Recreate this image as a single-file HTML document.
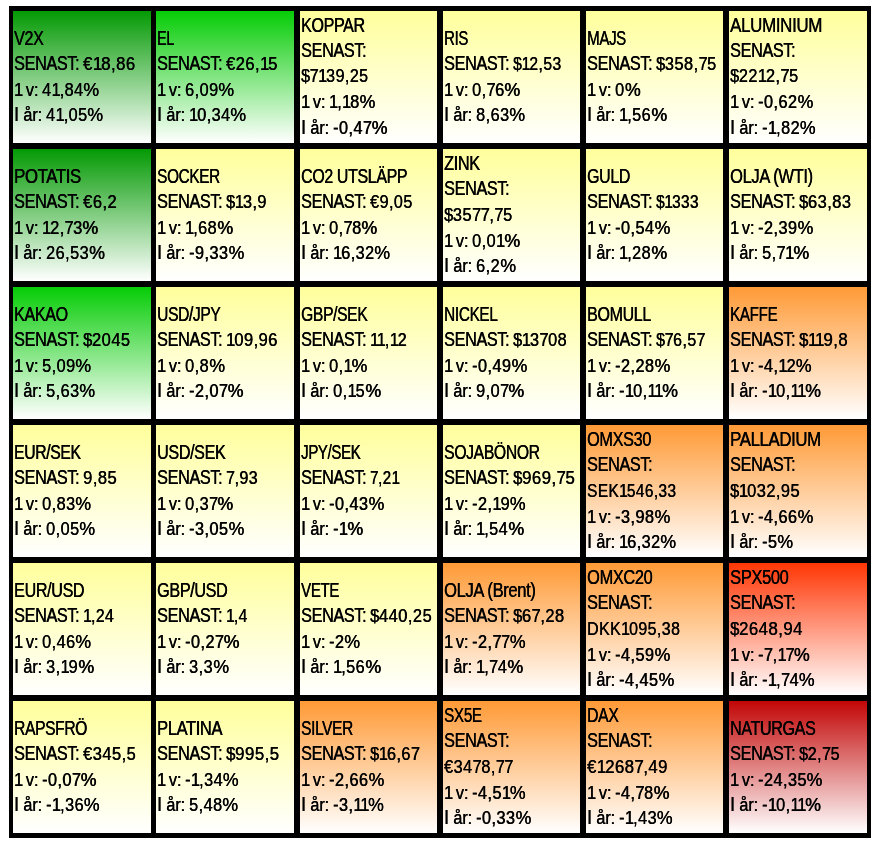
<!DOCTYPE html>
<html lang="sv"><head><meta charset="utf-8"><title>Heatmap</title>
<style>
html,body{margin:0;padding:0;background:#fff}
#g{position:relative;width:881px;height:851px;overflow:hidden;background:#fff;font-family:"Liberation Sans",sans-serif;font-size:19.55px;line-height:25px;color:#000}
#f{position:absolute;left:9px;top:6px;width:862px;height:832px;background:#000}
.c{position:absolute;overflow:hidden}
.dg{background:linear-gradient(to bottom,#049a04,#fff)}
.bg{background:linear-gradient(to bottom,#06cc06,#fff)}
.y{background:linear-gradient(to bottom,#ffff9c,#fff)}
.o{background:linear-gradient(to bottom,#ff9a36,#fff)}
.r{background:linear-gradient(to bottom,#ff3604,#fff)}
.dr{background:linear-gradient(to bottom,#c20606,#fff)}
.c div{position:absolute;left:1.2px;white-space:nowrap;transform-origin:0 0;transform:scaleX(0.833);height:25px;-webkit-text-stroke:0.15px #000;text-shadow:0.38px 0 0 #000;letter-spacing:-0.45px}
.c .n{letter-spacing:0.5px;font-size:18.15px}
.c .k{letter-spacing:-0.1px;transform:scaleX(0.8973);font-size:18.15px}
.c span{font-size:19.55px;line-height:0}
.c .S{transform:scaleX(0.833)}
b{font-weight:normal;letter-spacing:-0.50px}
em{font-style:normal;letter-spacing:-1.10px}
u{text-decoration:none;letter-spacing:-0.40px}
i{font-style:normal;display:inline-block;transform:scaleX(1.09);transform-origin:0 50%}
.c .k1{word-spacing:-1.8px}
</style></head><body>
<div id="g"><div id="f"></div>
<div class="c dg" style="left:13px;top:11px;width:138px;height:132px">
<div style="top:14.60px;transform:scaleX(0.8245)">V2X</div>
<div class="S" style="top:39.60px">SENAST:</div>
<div class="n" style="top:40.60px;left:70.40px;transform:scaleX(0.9232)">€<em>1</em>8,86</div>
<div class="k k1" style="top:66.60px">1 v:</div>
<div class="n" style="top:66.60px;left:29.40px;transform:scaleX(0.8960)">4<em>1</em>,84<i>%</i></div>
<div class="k" style="top:91.60px"><span>I</span> år:</div>
<div class="n" style="top:91.60px;left:32.50px;transform:scaleX(0.8960)">4<em>1</em>,05<i>%</i></div>
</div>
<div class="c bg" style="left:156px;top:11px;width:138px;height:132px">
<div style="top:14.60px;transform:scaleX(0.7329)">EL</div>
<div class="S" style="top:39.60px">SENAST:</div>
<div class="n" style="top:40.60px;left:70.40px;transform:scaleX(0.9089)">€26,<em>1</em>5</div>
<div class="k k1" style="top:66.60px">1 v:</div>
<div class="n" style="top:66.60px;left:29.40px;transform:scaleX(0.8960)">6,09<i>%</i></div>
<div class="k" style="top:91.60px"><span>I</span> år:</div>
<div class="n" style="top:91.60px;left:32.50px;transform:scaleX(0.8960)"><em>1</em>0,34<i>%</i></div>
</div>
<div class="c y" style="left:300px;top:11px;width:137px;height:132px">
<div style="top:1.60px;transform:scaleX(0.8229)">KOPPAR</div>
<div class="S" style="top:26.60px">SENAST:</div>
<div class="n" style="top:52.60px;left:1.20px;transform:scaleX(0.8842)"><u>$</u><b>7</b><em>1</em>39,25</div>
<div class="k k1" style="top:78.60px">1 v:</div>
<div class="n" style="top:78.60px;left:29.40px;transform:scaleX(0.8960)"><em>1</em>,<em>1</em>8<i>%</i></div>
<div class="k" style="top:104.60px"><span>I</span> år:</div>
<div class="n" style="top:104.60px;left:32.50px;transform:scaleX(0.8960)">-0,4<b>7</b><i>%</i></div>
</div>
<div class="c y" style="left:443px;top:11px;width:137px;height:132px">
<div style="top:14.60px;transform:scaleX(0.7639)">RIS</div>
<div class="S" style="top:39.60px">SENAST:</div>
<div class="n" style="top:40.60px;left:70.40px;transform:scaleX(0.8652)"><u>$</u><em>1</em>2,53</div>
<div class="k k1" style="top:66.60px">1 v:</div>
<div class="n" style="top:66.60px;left:29.40px;transform:scaleX(0.8960)">0,<b>7</b>6<i>%</i></div>
<div class="k" style="top:91.60px"><span>I</span> år:</div>
<div class="n" style="top:91.60px;left:32.50px;transform:scaleX(0.8960)">8,63<i>%</i></div>
</div>
<div class="c y" style="left:586px;top:11px;width:137px;height:132px">
<div style="top:14.60px;transform:scaleX(0.7706)">MAJS</div>
<div class="S" style="top:39.60px">SENAST:</div>
<div class="n" style="top:40.60px;left:70.40px;transform:scaleX(0.9013)"><u>$</u>358,<b>7</b>5</div>
<div class="k k1" style="top:66.60px">1 v:</div>
<div class="n" style="top:66.60px;left:29.40px;transform:scaleX(0.8960)">0<i>%</i></div>
<div class="k" style="top:91.60px"><span>I</span> år:</div>
<div class="n" style="top:91.60px;left:32.50px;transform:scaleX(0.8960)"><em>1</em>,56<i>%</i></div>
</div>
<div class="c y" style="left:729px;top:11px;width:138px;height:132px">
<div style="top:1.60px;transform:scaleX(0.8705)">ALUMINIUM</div>
<div class="S" style="top:26.60px">SENAST:</div>
<div class="n" style="top:52.60px;left:1.20px;transform:scaleX(0.8975)"><u>$</u>22<em>1</em>2,<b>7</b>5</div>
<div class="k k1" style="top:78.60px">1 v:</div>
<div class="n" style="top:78.60px;left:29.40px;transform:scaleX(0.8960)">-0,62<i>%</i></div>
<div class="k" style="top:104.60px"><span>I</span> år:</div>
<div class="n" style="top:104.60px;left:32.50px;transform:scaleX(0.8960)">-<em>1</em>,82<i>%</i></div>
</div>
<div class="c dg" style="left:13px;top:149px;width:138px;height:132px">
<div style="top:14.60px;transform:scaleX(0.8599)">POTATIS</div>
<div class="S" style="top:39.60px">SENAST:</div>
<div class="n" style="top:40.60px;left:70.40px;transform:scaleX(0.9114)">€6,2</div>
<div class="k k1" style="top:66.60px">1 v:</div>
<div class="n" style="top:66.60px;left:29.40px;transform:scaleX(0.8960)"><em>1</em>2,<b>7</b>3<i>%</i></div>
<div class="k" style="top:91.60px"><span>I</span> år:</div>
<div class="n" style="top:91.60px;left:32.50px;transform:scaleX(0.8960)">26,53<i>%</i></div>
</div>
<div class="c y" style="left:156px;top:149px;width:138px;height:132px">
<div style="top:14.60px;transform:scaleX(0.7859)">SOCKER</div>
<div class="S" style="top:39.60px">SENAST:</div>
<div class="n" style="top:40.60px;left:70.40px;transform:scaleX(0.8979)"><u>$</u><em>1</em>3,9</div>
<div class="k k1" style="top:66.60px">1 v:</div>
<div class="n" style="top:66.60px;left:29.40px;transform:scaleX(0.8960)"><em>1</em>,68<i>%</i></div>
<div class="k" style="top:91.60px"><span>I</span> år:</div>
<div class="n" style="top:91.60px;left:32.50px;transform:scaleX(0.8960)">-9,33<i>%</i></div>
</div>
<div class="c y" style="left:300px;top:149px;width:137px;height:132px">
<div style="top:14.60px;transform:scaleX(0.8175)">CO2 UTSLÄPP</div>
<div class="S" style="top:39.60px">SENAST:</div>
<div class="n" style="top:40.60px;left:70.40px;transform:scaleX(0.8899)">€9,05</div>
<div class="k k1" style="top:66.60px">1 v:</div>
<div class="n" style="top:66.60px;left:29.40px;transform:scaleX(0.8960)">0,<b>7</b>8<i>%</i></div>
<div class="k" style="top:91.60px"><span>I</span> år:</div>
<div class="n" style="top:91.60px;left:32.50px;transform:scaleX(0.8960)"><em>1</em>6,32<i>%</i></div>
</div>
<div class="c y" style="left:443px;top:149px;width:137px;height:132px">
<div style="top:1.60px;transform:scaleX(0.8336)">ZINK</div>
<div class="S" style="top:26.60px">SENAST:</div>
<div class="n" style="top:53.60px;left:1.20px;transform:scaleX(0.9037)"><u>$</u>35<b>7</b><b>7</b>,<b>7</b>5</div>
<div class="k k1" style="top:79.60px">1 v:</div>
<div class="n" style="top:79.60px;left:29.40px;transform:scaleX(0.8960)">0,0<em>1</em><i>%</i></div>
<div class="k" style="top:104.60px"><span>I</span> år:</div>
<div class="n" style="top:104.60px;left:32.50px;transform:scaleX(0.8960)">6,2<i>%</i></div>
</div>
<div class="c y" style="left:586px;top:149px;width:137px;height:132px">
<div style="top:14.60px;transform:scaleX(0.8150)">GULD</div>
<div class="S" style="top:39.60px">SENAST:</div>
<div class="n" style="top:40.60px;left:70.40px;transform:scaleX(0.8490)"><u>$</u><em>1</em>333</div>
<div class="k k1" style="top:66.60px">1 v:</div>
<div class="n" style="top:66.60px;left:29.40px;transform:scaleX(0.8960)">-0,54<i>%</i></div>
<div class="k" style="top:91.60px"><span>I</span> år:</div>
<div class="n" style="top:91.60px;left:32.50px;transform:scaleX(0.8960)"><em>1</em>,28<i>%</i></div>
</div>
<div class="c y" style="left:729px;top:149px;width:138px;height:132px">
<div style="top:14.60px;transform:scaleX(0.8464)">OLJA (WTI)</div>
<div class="S" style="top:39.60px">SENAST:</div>
<div class="n" style="top:40.60px;left:70.40px;transform:scaleX(0.9090)"><u>$</u>63,83</div>
<div class="k k1" style="top:66.60px">1 v:</div>
<div class="n" style="top:66.60px;left:29.40px;transform:scaleX(0.8960)">-2,39<i>%</i></div>
<div class="k" style="top:91.60px"><span>I</span> år:</div>
<div class="n" style="top:91.60px;left:32.50px;transform:scaleX(0.8960)">5,<b>7</b><em>1</em><i>%</i></div>
</div>
<div class="c bg" style="left:13px;top:287px;width:138px;height:132px">
<div style="top:14.60px;transform:scaleX(0.8240)">KAKAO</div>
<div class="S" style="top:39.60px">SENAST:</div>
<div class="n" style="top:40.60px;left:70.40px;transform:scaleX(0.9109)"><u>$</u>2045</div>
<div class="k k1" style="top:66.60px">1 v:</div>
<div class="n" style="top:66.60px;left:29.40px;transform:scaleX(0.8960)">5,09<i>%</i></div>
<div class="k" style="top:91.60px"><span>I</span> år:</div>
<div class="n" style="top:91.60px;left:32.50px;transform:scaleX(0.8960)">5,63<i>%</i></div>
</div>
<div class="c y" style="left:156px;top:287px;width:138px;height:132px">
<div style="top:14.60px;transform:scaleX(0.7984)">USD/JPY</div>
<div class="S" style="top:39.60px">SENAST:</div>
<div class="n" style="top:40.60px;left:70.40px;transform:scaleX(0.9089)"><em>1</em>09,96</div>
<div class="k k1" style="top:66.60px">1 v:</div>
<div class="n" style="top:66.60px;left:29.40px;transform:scaleX(0.8960)">0,8<i>%</i></div>
<div class="k" style="top:91.60px"><span>I</span> år:</div>
<div class="n" style="top:91.60px;left:32.50px;transform:scaleX(0.8960)">-2,0<b>7</b><i>%</i></div>
</div>
<div class="c y" style="left:300px;top:287px;width:137px;height:132px">
<div style="top:14.60px;transform:scaleX(0.8016)">GBP/SEK</div>
<div class="S" style="top:39.60px">SENAST:</div>
<div class="n" style="top:40.60px;left:70.40px;transform:scaleX(0.8852)"><em>1</em><em>1</em>,<em>1</em>2</div>
<div class="k k1" style="top:66.60px">1 v:</div>
<div class="n" style="top:66.60px;left:29.40px;transform:scaleX(0.8960)">0,<em>1</em><i>%</i></div>
<div class="k" style="top:91.60px"><span>I</span> år:</div>
<div class="n" style="top:91.60px;left:32.50px;transform:scaleX(0.8960)">0,<em>1</em>5<i>%</i></div>
</div>
<div class="c y" style="left:443px;top:287px;width:137px;height:132px">
<div style="top:14.60px;transform:scaleX(0.7865)">NICKEL</div>
<div class="S" style="top:39.60px">SENAST:</div>
<div class="n" style="top:40.60px;left:70.40px;transform:scaleX(0.8979)"><u>$</u><em>1</em>3<b>7</b>08</div>
<div class="k k1" style="top:66.60px">1 v:</div>
<div class="n" style="top:66.60px;left:29.40px;transform:scaleX(0.8960)">-0,49<i>%</i></div>
<div class="k" style="top:91.60px"><span>I</span> år:</div>
<div class="n" style="top:91.60px;left:32.50px;transform:scaleX(0.8960)">9,0<b>7</b><i>%</i></div>
</div>
<div class="c y" style="left:586px;top:287px;width:137px;height:132px">
<div style="top:14.60px;transform:scaleX(0.8203)">BOMULL</div>
<div class="S" style="top:39.60px">SENAST:</div>
<div class="n" style="top:40.60px;left:70.40px;transform:scaleX(0.8802)"><u>$</u><b>7</b>6,5<b>7</b></div>
<div class="k k1" style="top:66.60px">1 v:</div>
<div class="n" style="top:66.60px;left:29.40px;transform:scaleX(0.8960)">-2,28<i>%</i></div>
<div class="k" style="top:91.60px"><span>I</span> år:</div>
<div class="n" style="top:91.60px;left:32.50px;transform:scaleX(0.8960)">-<em>1</em>0,<em>1</em><em>1</em><i>%</i></div>
</div>
<div class="c o" style="left:729px;top:287px;width:138px;height:132px">
<div style="top:14.60px;transform:scaleX(0.7768)">KAFFE</div>
<div class="S" style="top:39.60px">SENAST:</div>
<div class="n" style="top:40.60px;left:70.40px;transform:scaleX(0.9218)"><u>$</u><em>1</em><em>1</em>9,8</div>
<div class="k k1" style="top:66.60px">1 v:</div>
<div class="n" style="top:66.60px;left:29.40px;transform:scaleX(0.8960)">-4,<em>1</em>2<i>%</i></div>
<div class="k" style="top:91.60px"><span>I</span> år:</div>
<div class="n" style="top:91.60px;left:32.50px;transform:scaleX(0.8960)">-<em>1</em>0,<em>1</em><em>1</em><i>%</i></div>
</div>
<div class="c y" style="left:13px;top:425px;width:138px;height:132px">
<div style="top:14.60px;transform:scaleX(0.8048)">EUR/SEK</div>
<div class="S" style="top:39.60px">SENAST:</div>
<div class="n" style="top:40.60px;left:70.40px;transform:scaleX(0.9114)">9,85</div>
<div class="k k1" style="top:66.60px">1 v:</div>
<div class="n" style="top:66.60px;left:29.40px;transform:scaleX(0.8960)">0,83<i>%</i></div>
<div class="k" style="top:91.60px"><span>I</span> år:</div>
<div class="n" style="top:91.60px;left:32.50px;transform:scaleX(0.8960)">0,05<i>%</i></div>
</div>
<div class="c y" style="left:156px;top:425px;width:138px;height:132px">
<div style="top:14.60px;transform:scaleX(0.8258)">USD/SEK</div>
<div class="S" style="top:39.60px">SENAST:</div>
<div class="n" style="top:40.60px;left:70.40px;transform:scaleX(0.8786)"><b>7</b>,93</div>
<div class="k k1" style="top:66.60px">1 v:</div>
<div class="n" style="top:66.60px;left:29.40px;transform:scaleX(0.8960)">0,3<b>7</b><i>%</i></div>
<div class="k" style="top:91.60px"><span>I</span> år:</div>
<div class="n" style="top:91.60px;left:32.50px;transform:scaleX(0.8960)">-3,05<i>%</i></div>
</div>
<div class="c y" style="left:300px;top:425px;width:137px;height:132px">
<div style="top:14.60px;transform:scaleX(0.7680)">JPY/SEK</div>
<div class="S" style="top:39.60px">SENAST:</div>
<div class="n" style="top:40.60px;left:70.40px;transform:scaleX(0.8319)"><b>7</b>,2<em>1</em></div>
<div class="k k1" style="top:66.60px">1 v:</div>
<div class="n" style="top:66.60px;left:29.40px;transform:scaleX(0.8960)">-0,43<i>%</i></div>
<div class="k" style="top:91.60px"><span>I</span> år:</div>
<div class="n" style="top:91.60px;left:32.50px;transform:scaleX(0.8960)">-<em>1</em><i>%</i></div>
</div>
<div class="c y" style="left:443px;top:425px;width:137px;height:132px">
<div style="top:14.60px;transform:scaleX(0.8055)">SOJABÖNOR</div>
<div class="S" style="top:39.60px">SENAST:</div>
<div class="n" style="top:40.60px;left:70.40px;transform:scaleX(0.9245)"><u>$</u>969,<b>7</b>5</div>
<div class="k k1" style="top:66.60px">1 v:</div>
<div class="n" style="top:66.60px;left:29.40px;transform:scaleX(0.8960)">-2,<em>1</em>9<i>%</i></div>
<div class="k" style="top:91.60px"><span>I</span> år:</div>
<div class="n" style="top:91.60px;left:32.50px;transform:scaleX(0.8960)"><em>1</em>,54<i>%</i></div>
</div>
<div class="c o" style="left:586px;top:425px;width:137px;height:132px">
<div style="top:1.60px;transform:scaleX(0.8338)">OMXS30</div>
<div class="S" style="top:26.60px">SENAST:</div>
<div class="n" style="top:53.60px;left:1.20px;transform:scaleX(0.8479)">SEK<em>1</em>546,33</div>
<div class="k k1" style="top:79.60px">1 v:</div>
<div class="n" style="top:79.60px;left:29.40px;transform:scaleX(0.8960)">-3,98<i>%</i></div>
<div class="k" style="top:104.60px"><span>I</span> år:</div>
<div class="n" style="top:104.60px;left:32.50px;transform:scaleX(0.8960)"><em>1</em>6,32<i>%</i></div>
</div>
<div class="c o" style="left:729px;top:425px;width:138px;height:132px">
<div style="top:1.60px;transform:scaleX(0.8610)">PALLADIUM</div>
<div class="S" style="top:26.60px">SENAST:</div>
<div class="n" style="top:53.60px;left:1.20px;transform:scaleX(0.9059)"><u>$</u><em>1</em>032,95</div>
<div class="k k1" style="top:79.60px">1 v:</div>
<div class="n" style="top:79.60px;left:29.40px;transform:scaleX(0.8960)">-4,66<i>%</i></div>
<div class="k" style="top:104.60px"><span>I</span> år:</div>
<div class="n" style="top:104.60px;left:32.50px;transform:scaleX(0.8960)">-5<i>%</i></div>
</div>
<div class="c y" style="left:13px;top:563px;width:138px;height:132px">
<div style="top:14.60px;transform:scaleX(0.8267)">EUR/USD</div>
<div class="S" style="top:39.60px">SENAST:</div>
<div class="n" style="top:40.60px;left:70.40px;transform:scaleX(0.8689)"><em>1</em>,24</div>
<div class="k k1" style="top:66.60px">1 v:</div>
<div class="n" style="top:66.60px;left:29.40px;transform:scaleX(0.8960)">0,46<i>%</i></div>
<div class="k" style="top:91.60px"><span>I</span> år:</div>
<div class="n" style="top:91.60px;left:32.50px;transform:scaleX(0.8960)">3,<em>1</em>9<i>%</i></div>
</div>
<div class="c y" style="left:156px;top:563px;width:138px;height:132px">
<div style="top:14.60px;transform:scaleX(0.8287)">GBP/USD</div>
<div class="S" style="top:39.60px">SENAST:</div>
<div class="n" style="top:40.60px;left:70.40px;transform:scaleX(0.8625)"><em>1</em>,4</div>
<div class="k k1" style="top:66.60px">1 v:</div>
<div class="n" style="top:66.60px;left:29.40px;transform:scaleX(0.8960)">-0,2<b>7</b><i>%</i></div>
<div class="k" style="top:91.60px"><span>I</span> år:</div>
<div class="n" style="top:91.60px;left:32.50px;transform:scaleX(0.8960)">3,3<i>%</i></div>
</div>
<div class="c y" style="left:300px;top:563px;width:137px;height:132px">
<div style="top:14.60px;transform:scaleX(0.7696)">VETE</div>
<div class="S" style="top:39.60px">SENAST:</div>
<div class="n" style="top:40.60px;left:70.40px;transform:scaleX(0.9096)"><u>$</u>440,25</div>
<div class="k k1" style="top:66.60px">1 v:</div>
<div class="n" style="top:66.60px;left:29.40px;transform:scaleX(0.8960)">-2<i>%</i></div>
<div class="k" style="top:91.60px"><span>I</span> år:</div>
<div class="n" style="top:91.60px;left:32.50px;transform:scaleX(0.8960)"><em>1</em>,56<i>%</i></div>
</div>
<div class="c o" style="left:443px;top:563px;width:137px;height:132px">
<div style="top:14.60px;transform:scaleX(0.8491)">OLJA (Brent)</div>
<div class="S" style="top:39.60px">SENAST:</div>
<div class="n" style="top:40.60px;left:70.40px;transform:scaleX(0.9093)"><u>$</u>6<b>7</b>,28</div>
<div class="k k1" style="top:66.60px">1 v:</div>
<div class="n" style="top:66.60px;left:29.40px;transform:scaleX(0.8960)">-2,<b>7</b><b>7</b><i>%</i></div>
<div class="k" style="top:91.60px"><span>I</span> år:</div>
<div class="n" style="top:91.60px;left:32.50px;transform:scaleX(0.8960)"><em>1</em>,<b>7</b>4<i>%</i></div>
</div>
<div class="c o" style="left:586px;top:563px;width:137px;height:132px">
<div style="top:1.60px;transform:scaleX(0.8410)">OMXC20</div>
<div class="S" style="top:26.60px">SENAST:</div>
<div class="n" style="top:53.60px;left:1.20px;transform:scaleX(0.8767)">DKK<em>1</em>095,38</div>
<div class="k k1" style="top:79.60px">1 v:</div>
<div class="n" style="top:79.60px;left:29.40px;transform:scaleX(0.8960)">-4,59<i>%</i></div>
<div class="k" style="top:104.60px"><span>I</span> år:</div>
<div class="n" style="top:104.60px;left:32.50px;transform:scaleX(0.8960)">-4,45<i>%</i></div>
</div>
<div class="c r" style="left:729px;top:563px;width:138px;height:132px">
<div style="top:1.60px;transform:scaleX(0.8458)">SPX500</div>
<div class="S" style="top:26.60px">SENAST:</div>
<div class="n" style="top:53.60px;left:1.20px;transform:scaleX(0.9230)"><u>$</u>2648,94</div>
<div class="k k1" style="top:79.60px">1 v:</div>
<div class="n" style="top:79.60px;left:29.40px;transform:scaleX(0.8960)">-<b>7</b>,<em>1</em><b>7</b><i>%</i></div>
<div class="k" style="top:104.60px"><span>I</span> år:</div>
<div class="n" style="top:104.60px;left:32.50px;transform:scaleX(0.8960)">-<em>1</em>,<b>7</b>4<i>%</i></div>
</div>
<div class="c y" style="left:13px;top:701px;width:138px;height:132px">
<div style="top:14.60px;transform:scaleX(0.7982)">RAPSFRÖ</div>
<div class="S" style="top:39.60px">SENAST:</div>
<div class="n" style="top:40.60px;left:70.40px;transform:scaleX(0.9085)">€345,5</div>
<div class="k k1" style="top:66.60px">1 v:</div>
<div class="n" style="top:66.60px;left:29.40px;transform:scaleX(0.8960)">-0,0<b>7</b><i>%</i></div>
<div class="k" style="top:91.60px"><span>I</span> år:</div>
<div class="n" style="top:91.60px;left:32.50px;transform:scaleX(0.8960)">-<em>1</em>,36<i>%</i></div>
</div>
<div class="c y" style="left:156px;top:701px;width:138px;height:132px">
<div style="top:14.60px;transform:scaleX(0.8462)">PLATINA</div>
<div class="S" style="top:39.60px">SENAST:</div>
<div class="n" style="top:40.60px;left:70.40px;transform:scaleX(0.9272)"><u>$</u>995,5</div>
<div class="k k1" style="top:66.60px">1 v:</div>
<div class="n" style="top:66.60px;left:29.40px;transform:scaleX(0.8960)">-<em>1</em>,34<i>%</i></div>
<div class="k" style="top:91.60px"><span>I</span> år:</div>
<div class="n" style="top:91.60px;left:32.50px;transform:scaleX(0.8960)">5,48<i>%</i></div>
</div>
<div class="c o" style="left:300px;top:701px;width:137px;height:132px">
<div style="top:14.60px;transform:scaleX(0.7930)">SILVER</div>
<div class="S" style="top:39.60px">SENAST:</div>
<div class="n" style="top:40.60px;left:70.40px;transform:scaleX(0.8981)"><u>$</u><em>1</em>6,6<b>7</b></div>
<div class="k k1" style="top:66.60px">1 v:</div>
<div class="n" style="top:66.60px;left:29.40px;transform:scaleX(0.8960)">-2,66<i>%</i></div>
<div class="k" style="top:91.60px"><span>I</span> år:</div>
<div class="n" style="top:91.60px;left:32.50px;transform:scaleX(0.8960)">-3,<em>1</em><em>1</em><i>%</i></div>
</div>
<div class="c o" style="left:443px;top:701px;width:137px;height:132px">
<div style="top:1.60px;transform:scaleX(0.7803)">SX5E</div>
<div class="S" style="top:26.60px">SENAST:</div>
<div class="n" style="top:53.60px;left:1.20px;transform:scaleX(0.8978)">€34<b>7</b>8,<b>7</b><b>7</b></div>
<div class="k k1" style="top:79.60px">1 v:</div>
<div class="n" style="top:79.60px;left:29.40px;transform:scaleX(0.8960)">-4,5<em>1</em><i>%</i></div>
<div class="k" style="top:104.60px"><span>I</span> år:</div>
<div class="n" style="top:104.60px;left:32.50px;transform:scaleX(0.8960)">-0,33<i>%</i></div>
</div>
<div class="c o" style="left:586px;top:701px;width:137px;height:132px">
<div style="top:1.60px;transform:scaleX(0.8076)">DAX</div>
<div class="S" style="top:26.60px">SENAST:</div>
<div class="n" style="top:53.60px;left:1.20px;transform:scaleX(0.9209)">€<em>1</em>268<b>7</b>,49</div>
<div class="k k1" style="top:79.60px">1 v:</div>
<div class="n" style="top:79.60px;left:29.40px;transform:scaleX(0.8960)">-4,<b>7</b>8<i>%</i></div>
<div class="k" style="top:104.60px"><span>I</span> år:</div>
<div class="n" style="top:104.60px;left:32.50px;transform:scaleX(0.8960)">-<em>1</em>,43<i>%</i></div>
</div>
<div class="c dr" style="left:729px;top:701px;width:138px;height:132px">
<div style="top:14.60px;transform:scaleX(0.8238)">NATURGAS</div>
<div class="S" style="top:39.60px">SENAST:</div>
<div class="n" style="top:40.60px;left:70.40px;transform:scaleX(0.8861)"><u>$</u>2,<b>7</b>5</div>
<div class="k k1" style="top:66.60px">1 v:</div>
<div class="n" style="top:66.60px;left:29.40px;transform:scaleX(0.8960)">-24,35<i>%</i></div>
<div class="k" style="top:91.60px"><span>I</span> år:</div>
<div class="n" style="top:91.60px;left:32.50px;transform:scaleX(0.8960)">-<em>1</em>0,<em>1</em><em>1</em><i>%</i></div>
</div>
</div></body></html>
